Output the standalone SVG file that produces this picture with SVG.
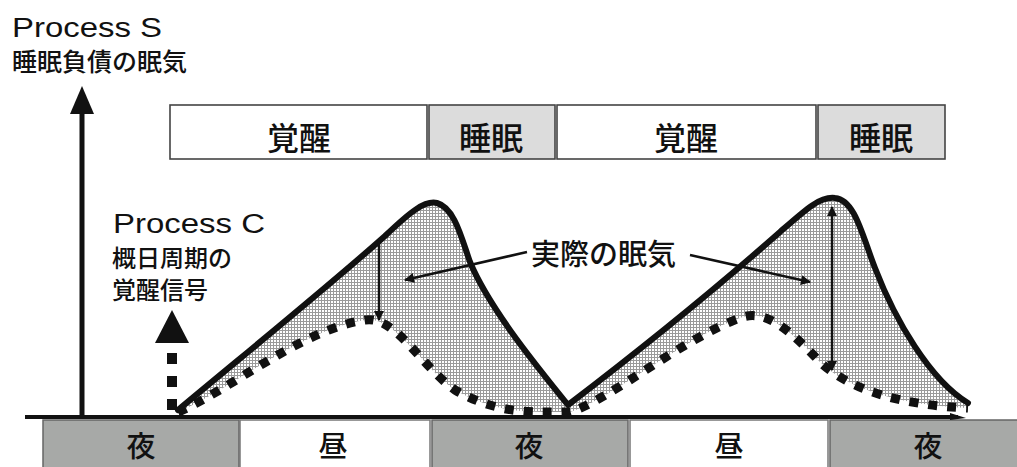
<svg xmlns="http://www.w3.org/2000/svg" width="1017" height="467" viewBox="0 0 1017 467">
<style>
.jp{font-family:"Noto Sans CJK JP","Noto Sans CJK SC",sans-serif;fill:#111;font-weight:500}
.lat{font-family:"Liberation Sans","Noto Sans CJK JP",sans-serif;fill:#111}
.box{stroke:#444;stroke-width:1.6}
.wake{fill:#fff}
.sleep{fill:#dcdcdc}
.night{fill:#a7a9a7;stroke:#666;stroke-width:1.5}
.day{fill:#fff;stroke:#777;stroke-width:1.5}
.solid{fill:none;stroke:#111;stroke-width:6;stroke-linecap:round;stroke-linejoin:round}
.dot{fill:none;stroke:#111;stroke-width:9;stroke-dasharray:9 10}
.thin{fill:none;stroke:#111;stroke-width:2.5}
</style>
<defs>
<pattern id="grid" width="3" height="3" patternUnits="userSpaceOnUse">
<rect width="3" height="3" fill="#fff"/>
<path d="M0,0.5H3M0.5,0V3" stroke="#9a9a9a" stroke-width="1"/>
</pattern>
<marker id="ah" viewBox="0 0 10 10" refX="9" refY="5" markerWidth="12" markerHeight="10" markerUnits="userSpaceOnUse" orient="auto-start-reverse">
<path d="M0,0L10,5L0,10z" fill="#111"/>
</marker>
</defs>
<rect width="1017" height="467" fill="#fff"/>

<!-- top bar -->
<g id="bar-top">
<g id="wake1"><rect class="box wake" x="170" y="105" width="257" height="54"/><text class="jp" x="299" y="150" font-size="32" text-anchor="middle">覚醒</text></g>
<g id="sleep1"><rect class="box sleep" x="429" y="105" width="126" height="54"/><text class="jp" x="491" y="150" font-size="32" text-anchor="middle">睡眠</text></g>
<g id="wake2"><rect class="box wake" x="557" y="105" width="259" height="54"/><text class="jp" x="686" y="150" font-size="32" text-anchor="middle">覚醒</text></g>
<g id="sleep2"><rect class="box sleep" x="818" y="105" width="127" height="54"/><text class="jp" x="881" y="150" font-size="32" text-anchor="middle">睡眠</text></g>
</g>

<!-- bottom bar -->
<g id="bar-bottom">
<g id="night1"><rect class="night" x="43" y="420" width="196" height="50"/><text class="jp" x="141" y="457" font-size="29" text-anchor="middle">夜</text></g>
<g id="day1"><rect class="day" x="240" y="420" width="190" height="50"/><text class="jp" x="333" y="457" font-size="29" text-anchor="middle">昼</text></g>
<g id="night2"><rect class="night" x="432" y="420" width="196" height="50"/><text class="jp" x="529" y="457" font-size="29" text-anchor="middle">夜</text></g>
<g id="day2"><rect class="day" x="630" y="420" width="198" height="50"/><text class="jp" x="729" y="457" font-size="29" text-anchor="middle">昼</text></g>
<g id="night3"><rect class="night" x="830" y="420" width="190" height="50"/><text class="jp" x="928" y="457" font-size="29" text-anchor="middle">夜</text></g>
</g>

<!-- shaded area -->
<g id="area">
<path fill="url(#grid)" d="M178,410 C250,350 330,285 385,236 C410,212 425,200 437,203 C455,208 462,240 470,262 C490,310 540,370 568,405 C640,350 720,285 780,232 C805,210 820,196 835,198 C855,200 862,235 875,268 C895,320 930,380 968,403 L968,416 L178,416 Z"/>
<path fill="#fff" d="M178,412 C230,390 300,330 365,320 C395,315 420,365 455,390 C490,410 520,412 545,412 L570,412 C610,400 680,340 740,318 C765,308 790,330 820,362 C850,390 900,405 968,408 L968,416 L178,416 Z"/>
</g>

<!-- labels -->
<g id="label-S">
<text class="lat" x="12" y="37" font-size="27" textLength="150" lengthAdjust="spacingAndGlyphs">Process S</text>
<text class="jp" x="12" y="71" font-size="25">睡眠負債の眠気</text>
</g>
<g id="label-C">
<text class="lat" x="113" y="233" font-size="27" textLength="152" lengthAdjust="spacingAndGlyphs">Process C</text>
<text class="jp" x="112" y="267" font-size="24">概日周期の</text>
<text class="jp" x="112" y="299" font-size="24">覚醒信号</text>
</g>
<g id="label-actual">
<text class="jp" x="531" y="265" font-size="29">実際の眠気</text>
</g>

<!-- connectors -->
<g id="connectors">
<line x1="25" y1="417" x2="958" y2="417" stroke="#111" stroke-width="4"/>
<path d="M950,413 L966,418 L950,420 Z" fill="#111"/>
<line x1="82" y1="417" x2="82" y2="108" stroke="#111" stroke-width="5"/>
<path d="M82,86 L70,114 L94,114 Z" fill="#111"/>
<line x1="172" y1="410" x2="172" y2="346" stroke="#111" stroke-width="10" stroke-dasharray="11 12"/>
<path d="M172,310 L155,343 L189,343 Z" fill="#111"/>
<path class="dot" d="M178,412 C230,390 300,330 365,320 C395,315 420,365 455,390 C490,410 520,412 545,412 L570,412 C610,400 680,340 740,318 C765,308 790,330 820,362 C850,390 900,405 968,408"/>
<path class="solid" d="M178,410 C250,350 330,285 385,236 C410,212 425,200 437,203 C455,208 462,240 470,262 C490,310 540,370 568,405 C640,350 720,285 780,232 C805,210 820,196 835,198 C855,200 862,235 875,268 C895,320 930,380 968,403"/>
<line class="thin" x1="379" y1="240" x2="379" y2="320" marker-end="url(#ah)"/>
<line class="thin" x1="832" y1="207" x2="832" y2="370" marker-start="url(#ah)" marker-end="url(#ah)"/>
<line class="thin" x1="527" y1="252" x2="405" y2="280" marker-end="url(#ah)"/>
<line class="thin" x1="690" y1="255" x2="810" y2="282" marker-end="url(#ah)"/>
</g>
</svg>
